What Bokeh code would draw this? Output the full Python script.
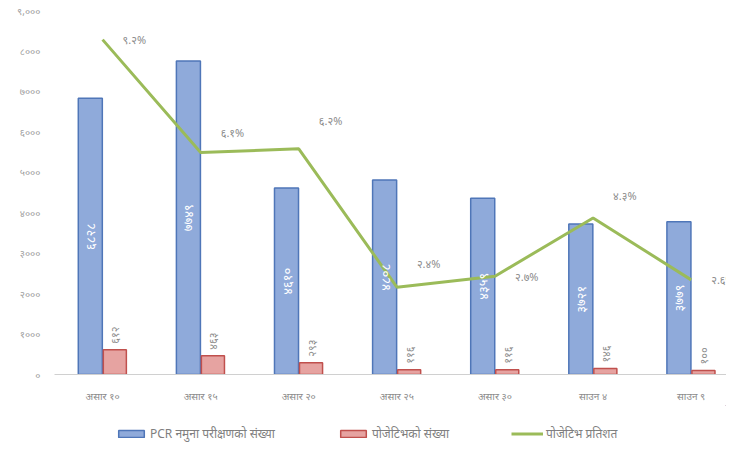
import math
from bokeh.plotting import figure
from bokeh.layouts import column
from bokeh.models import Range1d, FixedTicker, Legend, LegendItem, ColumnDataSource
from bokeh.core.properties import value
from bokeh.embed import file_html
from bokeh.resources import INLINE

categories = ["असार १०", "असार १५", "असार २०", "असार २५", "असार ३०", "साउन ४", "साउन ९"]
pcr_tests = [6828, 7749, 4610, 4808, 4359, 3721, 3779]
positives = [612, 463, 293, 116, 116, 146, 100]
positive_pct = [9.2, 6.1, 6.2, 2.4, 2.7, 4.3, 2.6]
y_ticks = [0, 1000, 2000, 3000, 4000, 5000, 6000, 7000, 8000, 9000]
y_tick_labels = ["०", "१०००", "२०००", "३०००", "४०००", "५०००", "६०००", "७०००", "८०००", "९,०००"]
series_names = ["PCR नमुना परीक्षणको संख्या", "पोजेटिभको संख्या", "पोजेटिभ प्रतिशत"]

# styling: vertical pixel shift of each percentage label (negative = up)
pct_label_shift = [0, -20, -28, -24, 0, -22, 0]

BLUE_FILL, BLUE_LINE = "#8FAADA", "#4F76B8"
RED_FILL, RED_LINE = "#E6A3A1", "#C0504D"
GREEN = "#9BBB59"

DEV = str.maketrans("0123456789", "०१२३४५६७८९")
def dev(s):
    return str(s).translate(DEV)

FONT = "Noto Sans"
xs = list(range(len(categories)))
src = ColumnDataSource(dict(
    x=xs,
    xb=[x - 0.125 for x in xs],
    xr=[x + 0.125 for x in xs],
    pcr=pcr_tests,
    pcr_mid=[v / 2 for v in pcr_tests],
    pcr_lbl=[dev(v) for v in pcr_tests],
    pos=positives,
    pos_lbl=[dev(v) for v in positives],
    pct=positive_pct,
    pct_lbl=[dev(f"{v:.1f}") + "%" for v in positive_pct],
    pct_dy=pct_label_shift,
))

p = figure(frame_width=672, frame_height=364, x_range=Range1d(-0.49, 6.36), y_range=Range1d(0, 9000),
           output_backend="svg", toolbar_location=None,
           min_border_left=54, min_border_right=0, min_border_top=10, min_border_bottom=0)
p.extra_y_ranges = {"pct": Range1d(0, 10)}
p.outline_line_color = None
p.xgrid.visible = False
p.ygrid.visible = False

p.vbar(x="xb", top="pcr", width=0.245, source=src,
       fill_color=BLUE_FILL, line_color=BLUE_LINE, line_width=1.5)
p.vbar(x="xr", top="pos", width=0.235, source=src,
       fill_color=RED_FILL, line_color=RED_LINE, line_width=1.5)
p.line(x="x", y="pct", source=src, y_range_name="pct", line_color=GREEN, line_width=3)

p.text(x="xb", y="pcr_mid", text="pcr_lbl", source=src, angle=math.pi / 2,
       text_align="center", text_baseline="middle", text_color="white",
       text_font=value(FONT), text_font_size="13px")
p.text(x="xr", y="pos", text="pos_lbl", source=src, angle=math.pi / 2,
       text_align="left", text_baseline="middle", text_color="#8C8C8C",
       text_font=value(FONT), text_font_size="11px", y_offset=-6)
p.text(x="x", y="pct", text="pct_lbl", source=src, y_range_name="pct",
       text_align="left", text_baseline="middle", text_color="#8C8C8C",
       text_font=value(FONT), text_font_size="11px", x_offset=20, y_offset="pct_dy")

p.xaxis.ticker = FixedTicker(ticks=xs)
p.xaxis.major_label_overrides = {x: c for x, c in zip(xs, categories)}
p.xaxis.axis_line_color = "#D0D0D0"
p.xaxis.major_tick_line_color = None
p.xaxis.minor_tick_line_color = None
p.xaxis.major_label_text_color = "#8C8C8C"
p.xaxis.major_label_text_font = FONT
p.xaxis.major_label_text_font_size = "10px"
p.xaxis.major_label_standoff = 8

p.yaxis.ticker = FixedTicker(ticks=y_ticks)
p.yaxis.major_label_overrides = {t: l for t, l in zip(y_ticks, y_tick_labels)}
p.yaxis.axis_line_color = None
p.yaxis.major_tick_line_color = None
p.yaxis.minor_tick_line_color = None
p.yaxis.major_label_text_color = "#A0A0A0"
p.yaxis.major_label_text_font = FONT
p.yaxis.major_label_text_font_size = "10px"
p.yaxis.major_label_standoff = 8

# legend strip (sample glyphs sit outside the visible range)
lg = figure(width=726, height=39, x_range=Range1d(0, 1), y_range=Range1d(0, 1),
            output_backend="svg", toolbar_location=None,
            x_axis_location=None, y_axis_location=None,
            min_border_left=0, min_border_right=0, min_border_top=0, min_border_bottom=0)
lg.outline_line_color = None
lg.xgrid.visible = False
lg.ygrid.visible = False
sample = ColumnDataSource(dict(x=[5, 6], y=[5, 5], top=[6, 6]))
lb = lg.vbar(x="x", top="top", bottom="y", width=0.1, source=sample,
             fill_color=BLUE_FILL, line_color=BLUE_LINE, line_width=1.5)
lr = lg.vbar(x="x", top="top", bottom="y", width=0.1, source=sample,
             fill_color=RED_FILL, line_color=RED_LINE, line_width=1.5)
ll = lg.line(x="x", y="y", source=sample, line_color=GREEN, line_width=3)

legend = Legend(items=[LegendItem(label=series_names[0], renderers=[lb]),
                       LegendItem(label=series_names[1], renderers=[lr]),
                       LegendItem(label=series_names[2], renderers=[ll])],
                orientation="horizontal", location=(109, 2),
                border_line_color=None, background_fill_alpha=0,
                label_text_font=FONT, label_text_font_size="12px",
                label_text_color="#7F7F7F", glyph_width=32, glyph_height=9,
                spacing=62, margin=0, padding=0, label_standoff=3)
legend.location = (61, 2)
lg.add_layout(legend, "center")

layout = column(p, lg, spacing=0)
open("out.html", "w").write(file_html(layout, INLINE))
